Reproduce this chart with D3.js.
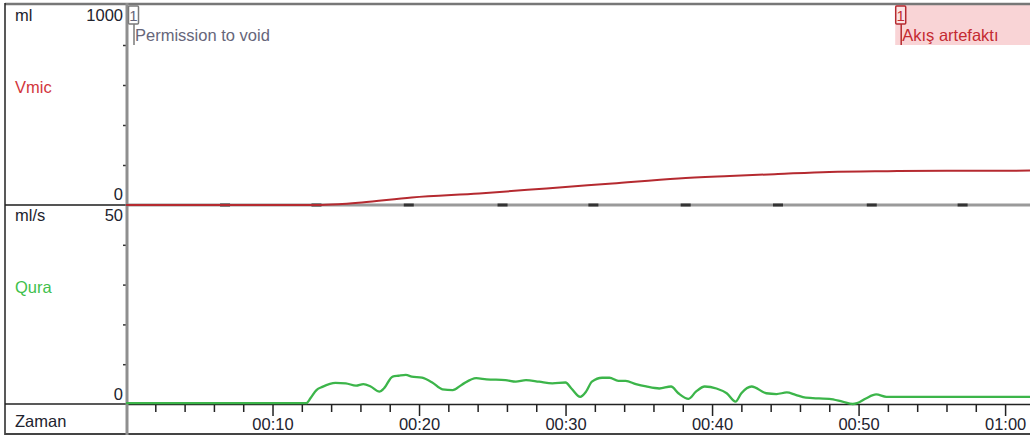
<!DOCTYPE html>
<html>
<head>
<meta charset="utf-8">
<script src="https://cdn.jsdelivr.net/npm/d3@7"></script>
<style>
  html, body { margin: 0; padding: 0; background: #fff; }
  svg { display: block; font-family: "Liberation Sans", Arial, sans-serif; }
</style>
</head>
<body>
<div id="chart"></div>
<script>
// ---------------- data ----------------
const qTime  = [0, 12.3, 12.6, 13.0, 13.4, 14.3, 15.0, 15.7, 16.2, 16.7, 17.3, 17.6, 18.2, 18.6, 19.1, 19.5, 20.2, 20.9, 21.6, 22.3, 22.9, 23.9, 24.6, 25.9, 26.6, 27.3, 28.2, 29.1, 30.0, 30.4, 31.0, 31.4, 31.8, 32.5, 33.0, 33.6, 34.1, 34.8, 35.5, 36.4, 37.2, 37.7, 38.4, 38.9, 39.5, 40.3, 41.0, 41.6, 42.0, 42.7, 43.7, 44.4, 45.1, 45.7, 46.4, 47.3, 48.0, 48.9, 49.6, 49.9, 50.5, 51.2, 51.9, 61.7];
const qValues = [0.2, 0.2, 1.5, 3.5, 4.3, 5.3, 5.2, 4.6, 5.0, 4.4, 3.1, 3.9, 6.9, 7.1, 7.3, 6.9, 6.6, 5.4, 3.7, 3.5, 4.8, 6.5, 6.2, 6.0, 5.6, 6.0, 5.6, 5.2, 5.4, 3.9, 1.8, 3.1, 5.6, 6.6, 6.6, 5.8, 5.8, 5.0, 4.4, 3.9, 4.4, 2.7, 1.3, 3.1, 4.4, 3.9, 2.7, 0.6, 2.7, 4.4, 2.7, 2.5, 2.9, 2.3, 1.6, 1.4, 1.3, 0.6, 0.0, 0.2, 1.4, 2.4, 1.8, 1.8];

const vTime   = [0, 13.0, 14.5, 16.1, 19.5, 24.1, 28.7, 33.2, 37.7, 41.2, 44.5, 48.0, 52.0, 56.0, 61.7];
const vValues = [0, 0, 4, 13, 38, 58, 83, 108, 133, 145, 155, 165, 169, 171, 172];

const vTicks = [200, 400, 600, 800];
const qTicks = [10, 20, 30, 40];
const timeMinor = d3.range(2, 61, 2);
const timeMajor = [10, 20, 30, 40, 50, 60];
const timeLabels = ["00:10", "00:20", "00:30", "00:40", "00:50", "01:00"];
const panelMarks = [6.76, 13.0, 19.3, 25.7, 31.9, 38.2, 44.5, 50.9, 57.1];

const annotTimes  = [0.15, 52.5];
const annotLabels = ["Permission to void", "Akış artefaktı"];
const annotNums   = ["1", "1"];
const artifactEnd = 61.7;

// ---------------- layout ----------------
const W = 1030, H = 437;
const svg = d3.select("#chart").append("svg").attr("width", W).attr("height", H);
svg.append("rect").attr("width", W).attr("height", H).attr("fill", "#fff");

const x  = d3.scaleLinear().domain([0, 61.7]).range([126, 1030]);
const yV = d3.scaleLinear().domain([0, 1000]).range([205, 5]);
const yQ = d3.scaleLinear().domain([0, 50]).range([404, 205]);

const txt = "#22232e";
const red = "#b52a30";
const green = "#3cb54a";
const fs = 16.5;

// artifact region
svg.append("rect")
  .attr("x", x(annotTimes[1])).attr("y", 5)
  .attr("width", x(artifactEnd) - x(annotTimes[1])).attr("height", 40)
  .attr("fill", "#f9d4d6");

// ---------------- frame ----------------
const g = svg.append("g");
g.append("line").attr("x1", 5).attr("x2", 127).attr("y1", 205).attr("y2", 205).attr("stroke", "#555").attr("stroke-width", 2);
g.append("line").attr("x1", 127).attr("x2", W).attr("y1", yV(0)).attr("y2", yV(0)).attr("stroke", "#9a9a9a").attr("stroke-width", 3);
g.selectAll("rect.pm").data(panelMarks).join("rect").attr("class", "pm")
  .attr("x", d => x(d) - 5).attr("y", 203.5).attr("width", 10).attr("height", 3).attr("fill", "#333");
g.append("line").attr("x1", 5).attr("x2", W).attr("y1", 4).attr("y2", 4).attr("stroke", "#777").attr("stroke-width", 2.5);
g.append("line").attr("x1", 5).attr("x2", 5).attr("y1", 3).attr("y2", 435).attr("stroke", "#222").attr("stroke-width", 1.5);
g.append("line").attr("x1", 5).attr("x2", W).attr("y1", 434).attr("y2", 434).attr("stroke", "#444").attr("stroke-width", 2);
g.append("line").attr("x1", 5).attr("x2", 127).attr("y1", 404).attr("y2", 404).attr("stroke", "#222").attr("stroke-width", 1.5);

// ---------------- axes ----------------
const axV = svg.append("g").attr("transform", "translate(127,0)")
  .call(d3.axisLeft(yV).tickValues(vTicks).tickSize(4).tickFormat(""));
axV.select(".domain").remove();
axV.selectAll(".tick line").attr("stroke", "#333").attr("stroke-width", 1.5);

const axQ = svg.append("g").attr("transform", "translate(127,0)")
  .call(d3.axisLeft(yQ).tickValues(qTicks).tickSize(4).tickFormat(""));
axQ.select(".domain").remove();
axQ.selectAll(".tick line").attr("stroke", "#333").attr("stroke-width", 1.5);

const axTminor = svg.append("g").attr("transform", "translate(0,404)")
  .call(d3.axisBottom(x).tickValues(timeMinor.filter(t => t % 10 !== 0)).tickSize(8).tickFormat(""));
axTminor.select(".domain").attr("stroke", "#222").attr("stroke-width", 1.5).attr("d", `M127,0.5H${W}`);
axTminor.selectAll(".tick line").attr("stroke", "#222").attr("stroke-width", 1.5);

const axTmajor = svg.append("g").attr("transform", "translate(0,404)")
  .call(d3.axisBottom(x).tickValues(timeMajor).tickSize(12).tickPadding(2)
    .tickFormat((d, i) => timeLabels[i]));
axTmajor.select(".domain").remove();
axTmajor.selectAll(".tick line").attr("stroke", "#222").attr("stroke-width", 1.5);
axTmajor.selectAll(".tick text")
  .attr("font-size", fs).attr("fill", txt).attr("font-family", "Liberation Sans, Arial, sans-serif")
  .attr("dy", null).attr("y", 26);

svg.append("line").attr("x1", 127).attr("x2", 127).attr("y1", 3).attr("y2", 435).attr("stroke", "#8f8f8f").attr("stroke-width", 3);

// ---------------- labels ----------------
const lab = svg.append("g").attr("font-size", fs).attr("fill", txt);
lab.append("text").attr("x", 15).attr("y", 21).text("ml");
lab.append("text").attr("x", 123).attr("y", 21).attr("text-anchor", "end").text("1000");
lab.append("text").attr("x", 15).attr("y", 93).attr("fill", "#d2363c").text("Vmic");
lab.append("text").attr("x", 123).attr("y", 200).attr("text-anchor", "end").text("0");
lab.append("text").attr("x", 15).attr("y", 221).text("ml/s");
lab.append("text").attr("x", 123).attr("y", 221).attr("text-anchor", "end").text("50");
lab.append("text").attr("x", 15).attr("y", 293).attr("fill", "#3fbf4c").text("Qura");
lab.append("text").attr("x", 123).attr("y", 400).attr("text-anchor", "end").text("0");
lab.append("text").attr("x", 15).attr("y", 427).text("Zaman");

// ---------------- series ----------------
const vData = vTime.map((t, i) => [t, vValues[i]]);
const qData = qTime.map((t, i) => [t, qValues[i]]);

svg.append("path").datum(vData)
  .attr("fill", "none").attr("stroke", red).attr("stroke-width", 2)
  .attr("d", d3.line().x(d => x(d[0])).y(d => yV(d[1])).curve(d3.curveMonotoneX));

svg.append("path").datum(qData)
  .attr("fill", "none").attr("stroke", green).attr("stroke-width", 2.3)
  .attr("d", d3.line().x(d => x(d[0])).y(d => yQ(d[1])).curve(d3.curveMonotoneX));

// ---------------- annotations ----------------
const annColors = ["#7a7a7a", red];
const annText   = ["#66667a", "#c42a31"];
annotTimes.forEach((t, i) => {
  const ax = x(t);
  const bx = i === 0 ? 128 : ax;
  const a = svg.append("g");
  a.append("rect").attr("x", bx + 0.5).attr("y", 6).attr("width", 10).attr("height", 18)
    .attr("fill", i === 0 ? "#fff" : "#fbe3e4").attr("stroke", annColors[i]).attr("stroke-width", 1.5).attr("rx", 1);
  a.append("text").attr("x", bx + 5.5).attr("y", 21).attr("text-anchor", "middle")
    .attr("font-size", 15).attr("fill", annText[i]).text(annotNums[i]);
  a.append("line").attr("x1", bx + 6).attr("x2", bx + 6).attr("y1", 24).attr("y2", 45)
    .attr("stroke", annColors[i]).attr("stroke-width", 1.5);
  a.append("text").attr("x", bx + 7).attr("y", 41)
    .attr("font-size", fs).attr("fill", annText[i]).text(annotLabels[i]);
});
</script>
</body>
</html>
